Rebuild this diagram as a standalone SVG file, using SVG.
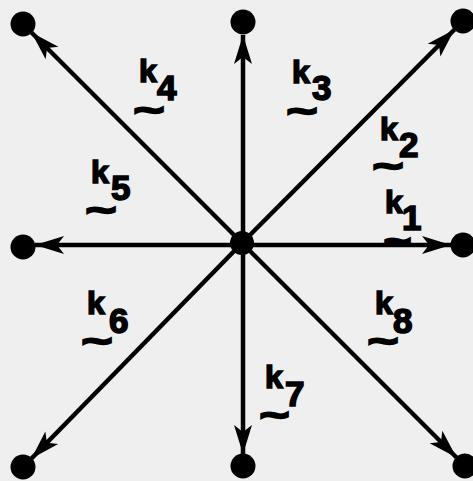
<svg xmlns="http://www.w3.org/2000/svg" width="473" height="481" viewBox="0 0 473 481">
<style>
.edge{stroke:#000;stroke-width:4.5;fill:none;marker-end:url(#ah)}
.dot{fill:#000}
.k{font-family:"Liberation Sans",Arial,sans-serif;font-weight:bold;font-size:32px;fill:#000;stroke:#000;stroke-width:1.6}
.d{font-family:"Liberation Sans",Arial,sans-serif;font-weight:bold;font-size:35px;fill:#000;stroke:#000;stroke-width:1.6}
.t{font-family:"Liberation Sans",Arial,sans-serif;font-weight:bold;font-size:34px;fill:#000;stroke:#000;stroke-width:2.4}
</style>
<defs>
<marker id="ah" markerUnits="userSpaceOnUse" markerWidth="32" markerHeight="22" refX="30" refY="10" orient="auto" overflow="visible">
<path d="M1,1 L30,10 L1,19 L8,10 Z" fill="#000"/>
</marker>
</defs>
<rect width="473" height="481" fill="#efefef"/>
<g id="connectors">
<line class="edge" x1="242" y1="245" x2="451" y2="245"/>
<line class="edge" x1="242" y1="243" x2="454.5" y2="29.5"/>
<line class="edge" x1="243" y1="243" x2="243" y2="35"/>
<line class="edge" x1="242" y1="243" x2="31.5" y2="32.5"/>
<line class="edge" x1="242" y1="245" x2="35" y2="245"/>
<line class="edge" x1="242" y1="243" x2="31.5" y2="458.5"/>
<line class="edge" x1="243" y1="243" x2="243" y2="454"/>
<line class="edge" x1="242" y1="243" x2="456.5" y2="457.5"/>
</g>
<g id="labels">
<g id="k1"><text class="k" x="385" y="213">k</text><text class="d" x="402" y="230">1</text><text class="t" x="384" y="252" textLength="27" lengthAdjust="spacingAndGlyphs">~</text></g>
<g id="k2"><text class="k" x="380" y="140">k</text><text class="d" x="399" y="157">2</text><text class="t" x="373" y="177" textLength="30" lengthAdjust="spacingAndGlyphs">~</text></g>
<g id="k3"><text class="k" x="292" y="83">k</text><text class="d" x="312" y="100">3</text><text class="t" x="287" y="122" textLength="30" lengthAdjust="spacingAndGlyphs">~</text></g>
<g id="k4"><text class="k" x="139" y="82">k</text><text class="d" x="157" y="100">4</text><text class="t" x="134" y="121" textLength="30" lengthAdjust="spacingAndGlyphs">~</text></g>
<g id="k5"><text class="k" x="91" y="183">k</text><text class="d" x="111" y="200">5</text><text class="t" x="86" y="221" textLength="30" lengthAdjust="spacingAndGlyphs">~</text></g>
<g id="k6"><text class="k" x="87" y="314">k</text><text class="d" x="109" y="333">6</text><text class="t" x="82" y="352" textLength="30" lengthAdjust="spacingAndGlyphs">~</text></g>
<g id="k7"><text class="k" x="265" y="388">k</text><text class="d" x="285" y="406">7</text><text class="t" x="260" y="426" textLength="29" lengthAdjust="spacingAndGlyphs">~</text></g>
<g id="k8"><text class="k" x="375" y="314">k</text><text class="d" x="393" y="333">8</text><text class="t" x="368" y="352" textLength="30" lengthAdjust="spacingAndGlyphs">~</text></g>
</g>
<g id="nodes">
<g id="center"><circle class="dot" cx="242" cy="243" r="12"/></g>
<g id="n1"><circle class="dot" cx="463" cy="245" r="12.5"/></g>
<g id="n2"><circle class="dot" cx="463" cy="21" r="12.5"/></g>
<g id="n3"><circle class="dot" cx="243" cy="22" r="12.5"/></g>
<g id="n4"><circle class="dot" cx="23" cy="24" r="12.5"/></g>
<g id="n5"><circle class="dot" cx="23" cy="247" r="12.5"/></g>
<g id="n6"><circle class="dot" cx="23" cy="467" r="12.5"/></g>
<g id="n7"><circle class="dot" cx="243" cy="466" r="12.5"/></g>
<g id="n8"><circle class="dot" cx="465" cy="466" r="12.5"/></g>
</g>
</svg>
